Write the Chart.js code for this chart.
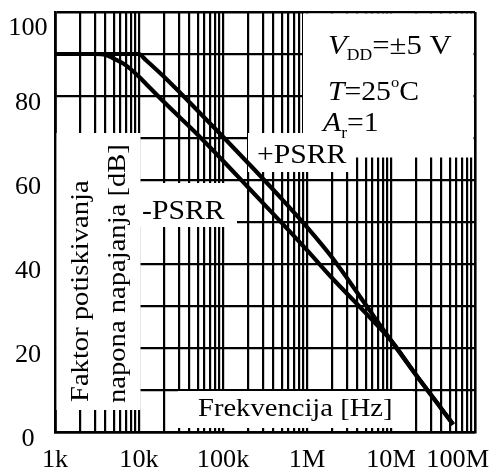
<!DOCTYPE html>
<html>
<head>
<meta charset="utf-8">
<script src="https://cdn.jsdelivr.net/npm/chart.js@4.4.1/dist/chart.umd.min.js"></script>
<style>html,body{margin:0;padding:0;background:#fff;}#wrap{width:491px;height:472px;}</style>
</head>
<body>
<div id="wrap"><canvas id="c" width="491" height="472"></canvas></div>
<script>
// ---- data ----
const freq       = [1e3, 3e3, 4e3, 5e3, 7e3, 1e4, 1.2e4, 2e4, 5e4, 1e5, 2e5, 5e5, 1e6, 2e6, 5e6, 1e7, 2e7, 4e7, 5.5e7];
const psrrPlus   = [90, 90, 90, 90, 90, 90, 88.6, 84.5, 76.5, 70.3, 64, 55.5, 48.8, 41.5, 30.3, 21.8, 13.5, 5.5, 1.8];
const psrrMinus  = [90, 90, 89.8, 88.9, 87.3, 84.6, 83, 78.5, 70.8, 64.6, 58.2, 49.8, 43.3, 36.6, 28.3, 21.8, 13.5, 5.5, 1.8];
const xTickValues = [1e3, 1e4, 1e5, 1e6, 1e7, 1e8];
const xTickLabels = ['1k', '10k', '100k', '1M', '10M', '100M'];
const yTickValues = [0, 20, 40, 60, 80, 100];
const yTickLabels = ['0', '20', '40', '60', '80', '100'];

const SERIF = '"Liberation Serif", "Times New Roman", serif';
const SX = 1.1;

function txt(ctx, s, x, y, size, opts = {}) {
  ctx.save();
  ctx.translate(x, y);
  if (opts.rot) ctx.rotate(opts.rot);
  ctx.scale(opts.sx || SX, 1);
  ctx.font = (opts.italic ? 'italic ' : '') + size + 'px ' + SERIF;
  ctx.fillStyle = '#000';
  ctx.textAlign = opts.align || 'left';
  ctx.textBaseline = opts.baseline || 'alphabetic';
  ctx.fillText(s, 0, 0);
  const w = ctx.measureText(s).width * (opts.sx || SX);
  ctx.restore();
  return w;
}
function seq(ctx, parts, x, y) {
  let cx = x;
  for (const p of parts) {
    cx += txt(ctx, p.t, cx, y + (p.dy || 0), p.size, { italic: p.it });
  }
}

const decorPlugin = {
  id: 'decor',
  beforeDatasetsDraw(chart) {
    const ctx = chart.ctx;
    ctx.save();
    ctx.fillStyle = '#fff';
    ctx.fillRect(56.5, 133, 84, 277);     // y-title box
    ctx.fillRect(140, 183, 97, 44);       // -PSRR box
    ctx.fillRect(178, 391, 235, 37);      // x-title box
    ctx.fillRect(303, 13.5, 170.5, 144);  // conditions box
    ctx.fillRect(248, 133, 107, 39);      // +PSRR box
    ctx.restore();
  },
  afterDraw(chart) {
    const ctx = chart.ctx;
    const xs = chart.scales.x, ys = chart.scales.y;
    ctx.save();
    ctx.font = '25px ' + SERIF;
    xTickValues.forEach((v, i) => {
      const w = ctx.measureText(xTickLabels[i]).width * 1.05;
      let px = xs.getPixelForValue(v);
      px = Math.min(Math.max(px, w / 2 + 2), 491 - w / 2 - 2);
      txt(ctx, xTickLabels[i], px, 460, 25, { align: 'center', baseline: 'middle', sx: 1.05 });
    });
    yTickValues.forEach((v, i) => {
      let py = Math.max(ys.getPixelForValue(v) + 7, 28);
      txt(ctx, yTickLabels[i], 28, py, 25, { align: 'center', baseline: 'middle', sx: 1.05 });
    });
    ctx.restore();
    txt(ctx, 'Frekvencija [Hz]', 198, 416, 26, {});
    txt(ctx, 'Faktor potiskivanja', 88, 402, 26, { rot: -Math.PI / 2 });
    txt(ctx, 'napona napajanja [dB]', 125, 403, 26, { rot: -Math.PI / 2 });
    txt(ctx, '-PSRR', 142, 219, 27, {});
    txt(ctx, '+PSRR', 257, 163, 27, {});
    seq(ctx, [
      { t: 'V', size: 28, it: true },
      { t: 'DD', size: 16, dy: 6 },
      { t: '=\u00b15 V', size: 28 }
    ], 328, 54);
    seq(ctx, [
      { t: 'T', size: 27, it: true },
      { t: '=25', size: 27 },
      { t: 'o', size: 15, dy: -13 },
      { t: 'C', size: 27 }
    ], 328, 100);
    seq(ctx, [
      { t: 'A', size: 27, it: true },
      { t: 'r', size: 16, dy: 7 },
      { t: '=1', size: 27 }
    ], 323, 131);
  }
};

const edgeW = (ctx, last) => (ctx.index === 0 || ctx.index === last) ? 2.6 : 2.2;

new Chart(document.getElementById('c'), {
  type: 'line',
  data: {
    datasets: [
      { label: '+PSRR', data: freq.map((f, i) => ({ x: f, y: psrrPlus[i] })), borderColor: '#000', borderWidth: 4.2, pointRadius: 0, cubicInterpolationMode: 'monotone', fill: false },
      { label: '-PSRR', data: freq.map((f, i) => ({ x: f, y: psrrMinus[i] })), borderColor: '#000', borderWidth: 4.2, pointRadius: 0, cubicInterpolationMode: 'monotone', fill: false }
    ]
  },
  options: {
    responsive: false,
    animation: false,
    devicePixelRatio: 1,
    layout: { padding: { left: 55, right: 16, top: 12, bottom: 40 } },
    plugins: { legend: { display: false }, tooltip: { enabled: false } },
    scales: {
      x: {
        type: 'logarithmic',
        min: 1e3, max: 1e8,
        afterBuildTicks(scale) {
          const t = [];
          for (let e = 3; e < 8; e++) for (let m = 1; m < 10; m++) t.push({ value: m * Math.pow(10, e) });
          t.push({ value: 1e8 });
          scale.ticks = t;
        },
        ticks: { display: false },
        grid: { color: '#000', lineWidth: (c) => edgeW(c, 45), drawTicks: false },
        border: { display: true, color: '#000', width: 2.6 }
      },
      y: {
        min: 0, max: 100,
        ticks: { display: false, stepSize: 10 },
        grid: { color: '#000', lineWidth: (c) => edgeW(c, 10), drawTicks: false },
        border: { display: true, color: '#000', width: 2.6 }
      }
    }
  },
  plugins: [decorPlugin]
});
</script>
</body>
</html>
